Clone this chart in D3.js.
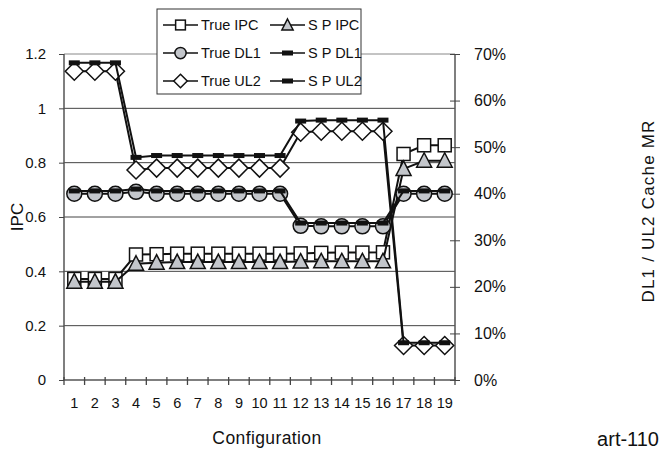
<!DOCTYPE html>
<html>
<head>
<meta charset="utf-8">
<script src="https://cdn.jsdelivr.net/npm/d3@7"></script>
<style>
  body { margin: 0; background: #fff; }
  svg text { font-family: "Liberation Sans", Arial, sans-serif; fill: #111; }
</style>
</head>
<body>
<svg id="chart" width="663" height="450"></svg>
<script>
// configurations on the x axis
const categories = ["1","2","3","4","5","6","7","8","9","10","11","12","13","14","15","16","17","18","19"];

// IPC (left axis)
const trueIPC = [0.372,0.372,0.372,0.462,0.463,0.465,0.465,0.465,0.465,0.465,0.465,0.466,0.468,0.469,0.469,0.470,0.832,0.864,0.864];
const spIPC   = [0.362,0.362,0.362,0.428,0.432,0.434,0.434,0.434,0.434,0.434,0.434,0.436,0.437,0.437,0.437,0.437,0.777,0.807,0.807];

// cache miss rates in % (right axis)
const trueDL1 = [40.0,40.0,40.0,40.4,40.0,40.0,40.0,40.0,40.0,40.0,40.0,33.1,33.0,33.0,33.0,33.0,40.0,40.0,40.0];
const spDL1   = [40.6,40.6,40.6,41.0,40.6,40.6,40.6,40.6,40.6,40.6,40.6,33.7,33.7,33.7,33.7,33.7,40.6,40.6,40.6];
const trueUL2 = [66.3,66.3,66.3,45.1,45.5,45.5,45.5,45.5,45.5,45.5,45.5,53.2,53.4,53.4,53.4,53.4,7.4,7.4,7.4];
const spUL2   = [68.1,68.1,68.1,47.8,48.2,48.2,48.2,48.2,48.2,48.2,48.2,55.6,55.8,55.8,55.8,55.8,8.0,8.0,8.0];

const leftTicks = [0, 0.2, 0.4, 0.6, 0.8, 1, 1.2];
const rightTicks = [0, 10, 20, 30, 40, 50, 60, 70];

const margin = { top: 54, left: 64, right: 208, bottom: 70 };
const W = 663, H = 450;
const plotR = W - margin.right, plotB = H - margin.bottom;
const gray = "#c3c6cb";

const svg = d3.select("#chart");

const x = d3.scaleBand().domain(categories).range([margin.left, plotR]);
const yL = d3.scaleLinear().domain([0, 1.2]).range([plotB, margin.top]);
const yR = d3.scaleLinear().domain([0, 70]).range([plotB, margin.top]);
const cx = d => x(d) + x.bandwidth() / 2;

// gridlines
svg.append("g").selectAll("line")
  .data(leftTicks.filter(t => t > 0))
  .enter().append("line")
  .attr("x1", margin.left).attr("x2", plotR)
  .attr("y1", d => yL(d)).attr("y2", d => yL(d))
  .attr("stroke", d => d === 1.2 ? "#888" : "#444").attr("stroke-width", 1);

// left axis
const axL = svg.append("g")
  .attr("transform", `translate(${margin.left},0)`)
  .call(d3.axisLeft(yL).tickValues(leftTicks).tickSize(5).tickPadding(13).tickFormat(d3.format("")));
// right axis
const axR = svg.append("g")
  .attr("transform", `translate(${plotR},0)`)
  .call(d3.axisRight(yR).tickValues(rightTicks).tickSize(5).tickPadding(14).tickFormat(d => d + "%"));
axR.selectAll(".tick line").attr("x1", -5);
// bottom axis, ticks on category boundaries
const axB = svg.append("g")
  .attr("transform", `translate(0,${plotB})`)
  .call(d3.axisBottom(x).tickSize(0).tickPadding(18));
axB.selectAll(".tick").append("line")
  .attr("x1", -x.bandwidth() / 2).attr("x2", -x.bandwidth() / 2)
  .attr("y1", -3).attr("y2", 5)
  .attr("stroke", "#444").attr("stroke-width", 1.3);
axB.append("line")
  .attr("x1", plotR).attr("x2", plotR).attr("y1", -3).attr("y2", 5)
  .attr("stroke", "#444").attr("stroke-width", 1.3);

[axL, axR, axB].forEach(a => {
  a.select(".domain").attr("stroke", "#555").attr("stroke-width", 1.5);
  a.selectAll(".tick line").attr("stroke", "#444");
  a.selectAll("text").attr("font-size", 16).attr("fill", "#111");
});
axL.select(".domain").attr("d", `M0,${plotB}V${margin.top}`);
axR.select(".domain").attr("d", `M0,${plotB}V${margin.top}`);
axB.select(".domain").attr("d", `M${margin.left},0H${plotR}`);
axL.selectAll("text").attr("font-size", 15);
axB.selectAll("text").attr("font-size", 14.5);

// axis titles
svg.append("text").attr("transform", `translate(23,${(margin.top + plotB) / 2}) rotate(-90)`)
  .attr("text-anchor", "middle").attr("font-size", 17).text("IPC");
svg.append("text").attr("transform", `translate(654,${(margin.top + plotB) / 2 - 6}) rotate(-90)`)
  .attr("text-anchor", "middle").attr("font-size", 17).attr("letter-spacing", 1.2).text("DL1 / UL2 Cache MR");
svg.append("text").attr("x", 267).attr("y", 444)
  .attr("text-anchor", "middle").attr("font-size", 17.5).attr("letter-spacing", 0.4).text("Configuration");
svg.append("text").attr("x", 659).attr("y", 446)
  .attr("text-anchor", "end").attr("font-size", 20).text("art-110");

// markers
function drawMarker(g, type, px, py, k = 1) {
  if (type === "square") {
    g.append("rect").attr("x", px - 6.5 * k).attr("y", py - 6.5 * k).attr("width", 13 * k).attr("height", 13 * k)
      .attr("fill", "#fff").attr("stroke", "#111").attr("stroke-width", 1.5);
  } else if (type === "triangle") {
    g.append("path").attr("d", `M${px},${py - 8 * k}L${px + 7.5 * k},${py + 6.5 * k}L${px - 7.5 * k},${py + 6.5 * k}Z`)
      .attr("fill", gray).attr("stroke", "#111").attr("stroke-width", 1.5);
  } else if (type === "circle") {
    g.append("circle").attr("cx", px).attr("cy", py).attr("r", 7.5 * k)
      .attr("fill", gray).attr("stroke", "#111").attr("stroke-width", 1.5);
  } else if (type === "diamond") {
    g.append("path").attr("d", `M${px},${py - 9 * k}L${px + 9 * k},${py}L${px},${py + 9 * k}L${px - 9 * k},${py}Z`)
      .attr("fill", "#fff").attr("stroke", "#111").attr("stroke-width", 1.5);
  } else if (type === "dash") {
    g.append("rect").attr("x", px - 5.5).attr("y", py - 2.5).attr("width", 11).attr("height", 5)
      .attr("fill", "#111");
  }
}

const series = [
  { name: "True IPC", values: trueIPC, y: yL, marker: "square" },
  { name: "S P IPC", values: spIPC, y: yL, marker: "triangle" },
  { name: "True DL1", values: trueDL1, y: yR, marker: "circle" },
  { name: "S P DL1", values: spDL1, y: yR, marker: "dash" },
  { name: "True UL2", values: trueUL2, y: yR, marker: "diamond" },
  { name: "S P UL2", values: spUL2, y: yR, marker: "dash" }
];

series.forEach(s => {
  const g = svg.append("g");
  const line = d3.line().x((d, i) => cx(categories[i])).y(d => s.y(d));
  g.append("path").attr("d", line(s.values))
    .attr("fill", "none").attr("stroke", "#111").attr("stroke-width", 2);
  s.values.forEach((v, i) => drawMarker(g, s.marker, cx(categories[i]), s.y(v)));
});

// legend
const lg = svg.append("g");
lg.append("rect").attr("x", 157).attr("y", 9).attr("width", 204).attr("height", 85)
  .attr("fill", "#fff").attr("stroke", "#333").attr("stroke-width", 1);
const legendRows = [25, 53, 81];
series.forEach((s, i) => {
  const col = i % 2, row = Math.floor(i / 2);
  const x0 = col === 0 ? 163 : 270;
  const ly = legendRows[row];
  lg.append("line").attr("x1", x0).attr("x2", x0 + 35).attr("y1", ly).attr("y2", ly)
    .attr("stroke", "#111").attr("stroke-width", 1.5);
  drawMarker(lg, s.marker, x0 + 17.5, ly, 0.75);
  lg.append("text").attr("x", x0 + 38).attr("y", ly + 5).attr("font-size", 14.5).text(s.name);
});
</script>
</body>
</html>
